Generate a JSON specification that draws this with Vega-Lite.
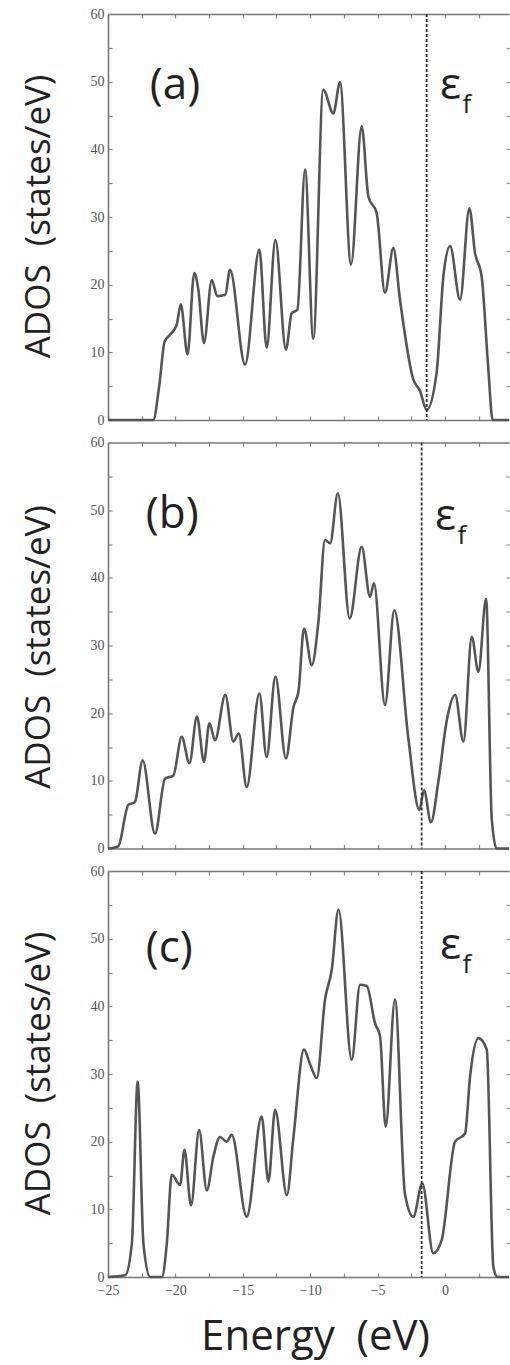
{
  "$schema": "https://vega.github.io/schema/vega-lite/v6.json",
  "padding": {"left": 21, "top": 7, "right": 0, "bottom": 6},
  "background": "white",
  "bounds": "flush",
  "spacing": 22.5,
  "config": {
    "view": {"stroke": null},
    "axis": {
      "grid": false,
      "domainColor": "#777",
      "domainWidth": 1.6,
      "tickColor": "#888",
      "tickWidth": 1.2,
      "labelFont": "Liberation Serif",
      "labelFontSize": 14,
      "labelColor": "#555",
      "labelFlush": false,
      "labelOverlap": false,
      "titleFont": "Open Sans",
      "titleColor": "#222",
      "titleFontWeight": "normal"
    }
  },
  "datasets": {
    "a": [
      {"E": -25, "D": 0}, {"E": -21.65, "D": 0}, {"E": -21.2, "D": 5}, {"E": -20.8, "D": 11.6},
      {"E": -20.4, "D": 12.6}, {"E": -19.9, "D": 14.1}, {"E": -19.6, "D": 17.1}, {"E": -19.1, "D": 9.7},
      {"E": -18.6, "D": 21.7}, {"E": -18.3, "D": 19.3}, {"E": -17.88, "D": 11.4}, {"E": -17.3, "D": 20.7},
      {"E": -16.9, "D": 18.3}, {"E": -16.3, "D": 18.5}, {"E": -15.95, "D": 22.2}, {"E": -14.83, "D": 8.2},
      {"E": -13.77, "D": 25.2}, {"E": -13.23, "D": 10.7}, {"E": -12.58, "D": 26.6}, {"E": -11.8, "D": 10.4},
      {"E": -11.37, "D": 15.8}, {"E": -10.95, "D": 16.3}, {"E": -10.38, "D": 37}, {"E": -9.77, "D": 12},
      {"E": -9.03, "D": 48.8}, {"E": -8.28, "D": 45.3}, {"E": -7.79, "D": 49.9}, {"E": -6.97, "D": 23},
      {"E": -6.18, "D": 43.4}, {"E": -5.68, "D": 33}, {"E": -5.07, "D": 30.6}, {"E": -4.45, "D": 18.8},
      {"E": -3.83, "D": 25.4}, {"E": -3.34, "D": 17.8}, {"E": -2.35, "D": 6}, {"E": -1.85, "D": 4.3},
      {"E": -1.36, "D": 1.5}, {"E": -0.62, "D": 7}, {"E": -0.12, "D": 21.2}, {"E": 0.38, "D": 25.7},
      {"E": 1.12, "D": 17.8}, {"E": 1.81, "D": 31.3}, {"E": 2.23, "D": 24.7}, {"E": 2.72, "D": 21.2},
      {"E": 3.2, "D": 8}, {"E": 3.54, "D": 0}, {"E": 4.75, "D": 0}
    ],
    "b": [
      {"E": -25, "D": 0}, {"E": -24.25, "D": 0.3}, {"E": -23.5, "D": 6.4}, {"E": -23.0, "D": 6.9},
      {"E": -22.43, "D": 13}, {"E": -21.51, "D": 2.2}, {"E": -20.77, "D": 10.3}, {"E": -20.15, "D": 10.8},
      {"E": -19.53, "D": 16.5}, {"E": -18.96, "D": 12.6}, {"E": -18.4, "D": 19.5}, {"E": -17.88, "D": 12.8},
      {"E": -17.48, "D": 18.5}, {"E": -17.06, "D": 16}, {"E": -16.3, "D": 22.7}, {"E": -15.7, "D": 15.8},
      {"E": -15.3, "D": 17}, {"E": -14.71, "D": 9.1}, {"E": -13.77, "D": 22.9}, {"E": -13.23, "D": 13.5},
      {"E": -12.58, "D": 25.4}, {"E": -11.8, "D": 13.3}, {"E": -11.24, "D": 20.9}, {"E": -10.87, "D": 23.2},
      {"E": -10.46, "D": 32.5}, {"E": -9.88, "D": 27.1}, {"E": -9.39, "D": 33.5}, {"E": -8.9, "D": 45.6},
      {"E": -8.52, "D": 45.1}, {"E": -7.95, "D": 52.5}, {"E": -7.07, "D": 34}, {"E": -6.18, "D": 44.6},
      {"E": -5.56, "D": 37.2}, {"E": -5.27, "D": 39.2}, {"E": -4.45, "D": 21.2}, {"E": -3.76, "D": 35.2},
      {"E": -2.72, "D": 16.3}, {"E": -1.9, "D": 5.7}, {"E": -1.56, "D": 8.6}, {"E": -1.04, "D": 3.9},
      {"E": -0.49, "D": 9.9}, {"E": 0.14, "D": 19}, {"E": 0.75, "D": 22.7}, {"E": 1.37, "D": 15.8},
      {"E": 1.99, "D": 31.3}, {"E": 2.48, "D": 26.1}, {"E": 3.05, "D": 36.9}, {"E": 3.47, "D": 4.4},
      {"E": 3.83, "D": 0}, {"E": 4.75, "D": 0}
    ],
    "c": [
      {"E": -25, "D": 0}, {"E": -23.73, "D": 0.25}, {"E": -23.23, "D": 4.9}, {"E": -22.8, "D": 28.9},
      {"E": -22.37, "D": 4.9}, {"E": -21.87, "D": 0}, {"E": -21.0, "D": 0}, {"E": -20.64, "D": 4.9},
      {"E": -20.27, "D": 15.1}, {"E": -19.65, "D": 13.6}, {"E": -19.33, "D": 18.8}, {"E": -18.84, "D": 10.6},
      {"E": -18.24, "D": 21.7}, {"E": -17.67, "D": 12.8}, {"E": -17.18, "D": 17.8}, {"E": -16.69, "D": 20.7},
      {"E": -16.2, "D": 20}, {"E": -15.82, "D": 21}, {"E": -14.71, "D": 8.9}, {"E": -13.6, "D": 23.7},
      {"E": -13.1, "D": 14.1}, {"E": -12.6, "D": 24.7}, {"E": -11.73, "D": 12.1}, {"E": -11.24, "D": 20.7},
      {"E": -10.46, "D": 33.6}, {"E": -10.0, "D": 31.4}, {"E": -9.51, "D": 29.4}, {"E": -8.9, "D": 41},
      {"E": -8.4, "D": 45.4}, {"E": -7.9, "D": 54.3}, {"E": -6.92, "D": 32.1}, {"E": -6.3, "D": 43.2},
      {"E": -5.8, "D": 43}, {"E": -5.19, "D": 37.5}, {"E": -4.82, "D": 35.6}, {"E": -4.4, "D": 22.2},
      {"E": -3.71, "D": 41}, {"E": -2.97, "D": 12.3}, {"E": -2.35, "D": 8.9}, {"E": -1.68, "D": 13.8},
      {"E": -0.87, "D": 3.5}, {"E": -0.25, "D": 5.4}, {"E": 0.75, "D": 20}, {"E": 1.49, "D": 21.2},
      {"E": 1.86, "D": 29.6}, {"E": 2.48, "D": 35.3}, {"E": 3.1, "D": 33.6}, {"E": 3.59, "D": 1.5},
      {"E": 3.89, "D": 0}, {"E": 4.75, "D": 0}
    ],
    "fermi": [
      {"p": "a", "ef": -1.36}, {"p": "b", "ef": -1.73}, {"p": "c", "ef": -1.73}
    ],
    "big": [
      {"p": "a", "E": -21.9, "D": 47.4, "t": "(a)"},
      {"p": "a", "E": -0.37, "D": 47.4, "t": "ε"},
      {"p": "b", "E": -22.2, "D": 47.3, "t": "(b)"},
      {"p": "b", "E": -0.74, "D": 47.0, "t": "ε"},
      {"p": "c", "E": -22.2, "D": 46.5, "t": "(c)"},
      {"p": "c", "E": -0.37, "D": 47.0, "t": "ε"}
    ],
    "sub": [
      {"p": "a", "E": 1.3, "D": 45.3, "t": "f"},
      {"p": "b", "E": 0.93, "D": 45.0, "t": "f"},
      {"p": "c", "E": 1.3, "D": 45.0, "t": "f"}
    ]
  },
  "vconcat": [
    {
      "width": 401, "height": 406,
      "layer": [
        {
          "data": {"name": "a"},
          "mark": {"type": "line", "interpolate": "monotone", "color": "#555", "strokeWidth": 2.6},
          "encoding": {
            "x": {"field": "E", "type": "quantitative", "scale": {"domain": [-25, 4.75], "nice": false, "zero": false},
                  "axis": {"orient": "bottom", "values": [-25, -22.5, -20, -17.5, -15, -12.5, -10, -7.5, -5, -2.5, 0, 2.5], "labels": false, "tickSize": -4, "title": null}},
            "y": {"field": "D", "type": "quantitative", "scale": {"domain": [0, 60], "nice": false},
                  "axis": {"orient": "left", "values": [0, 5, 10, 15, 20, 25, 30, 35, 40, 45, 50, 55, 60], "labelExpr": "datum.value % 10 === 0 ? datum.label : ''", "tickSize": -4, "labelPadding": 8,
                           "title": "ADOS\u00a0\u00a0(states/eV)", "titleFontSize": 35, "titleX": -59, "titleY": 202, "titleBaseline": "alphabetic", "titleAlign": "center", "titleAngle": -90}}
          }
        },
        {
          "data": {"name": "a"},
          "mark": {"type": "line", "opacity": 0},
          "encoding": {
            "x": {"field": "E", "type": "quantitative", "axis": {"orient": "top", "values": [-25, -22.5, -20, -17.5, -15, -12.5, -10, -7.5, -5, -2.5, 0, 2.5], "labels": false, "tickSize": -4, "title": null}},
            "y": {"field": "D", "type": "quantitative", "axis": {"orient": "right", "values": [5, 10, 15, 20, 25, 30, 35, 40, 45, 50, 55], "labels": false, "domain": false, "tickSize": -3, "title": null}}
          }
        },
        {
          "data": {"name": "fermi"},
          "transform": [{"filter": "datum.p === 'a'"}],
          "mark": {"type": "rule", "strokeDash": [3, 2], "color": "#333", "strokeWidth": 1.8},
          "encoding": {"x": {"field": "ef", "type": "quantitative", "axis": null}}
        },
        {
          "data": {"name": "big"},
          "transform": [{"filter": "datum.p === 'a'"}],
          "mark": {"type": "text", "font": "Open Sans", "fontSize": 44, "align": "left", "baseline": "alphabetic", "color": "#222"},
          "encoding": {"x": {"field": "E", "type": "quantitative", "axis": null}, "y": {"field": "D", "type": "quantitative", "axis": null}, "text": {"field": "t"}}
        },
        {
          "data": {"name": "sub"},
          "transform": [{"filter": "datum.p === 'a'"}],
          "mark": {"type": "text", "font": "Open Sans", "fontSize": 26, "align": "left", "baseline": "alphabetic", "color": "#222"},
          "encoding": {"x": {"field": "E", "type": "quantitative", "axis": null}, "y": {"field": "D", "type": "quantitative", "axis": null}, "text": {"field": "t"}}
        }
      ],
      "resolve": {"axis": {"x": "independent", "y": "independent"}}
    },
    {
      "width": 401, "height": 406,
      "layer": [
        {
          "data": {"name": "b"},
          "mark": {"type": "line", "interpolate": "monotone", "color": "#555", "strokeWidth": 2.6},
          "encoding": {
            "x": {"field": "E", "type": "quantitative", "scale": {"domain": [-25, 4.75], "nice": false, "zero": false},
                  "axis": {"orient": "bottom", "values": [-25, -22.5, -20, -17.5, -15, -12.5, -10, -7.5, -5, -2.5, 0, 2.5], "labels": false, "tickSize": -4, "title": null}},
            "y": {"field": "D", "type": "quantitative", "scale": {"domain": [0, 60], "nice": false},
                  "axis": {"orient": "left", "values": [0, 5, 10, 15, 20, 25, 30, 35, 40, 45, 50, 55, 60], "labelExpr": "datum.value % 10 === 0 ? datum.label : ''", "tickSize": -4, "labelPadding": 8,
                           "title": "ADOS\u00a0\u00a0(states/eV)", "titleFontSize": 35, "titleX": -59, "titleY": 204, "titleBaseline": "alphabetic", "titleAlign": "center", "titleAngle": -90}}
          }
        },
        {
          "data": {"name": "b"},
          "mark": {"type": "line", "opacity": 0},
          "encoding": {
            "x": {"field": "E", "type": "quantitative", "axis": {"orient": "top", "values": [-25, -22.5, -20, -17.5, -15, -12.5, -10, -7.5, -5, -2.5, 0, 2.5], "labels": false, "tickSize": -4, "title": null}},
            "y": {"field": "D", "type": "quantitative", "axis": {"orient": "right", "values": [5, 10, 15, 20, 25, 30, 35, 40, 45, 50, 55], "labels": false, "domain": false, "tickSize": -3, "title": null}}
          }
        },
        {
          "data": {"name": "fermi"},
          "transform": [{"filter": "datum.p === 'b'"}],
          "mark": {"type": "rule", "strokeDash": [3, 2], "color": "#333", "strokeWidth": 1.8},
          "encoding": {"x": {"field": "ef", "type": "quantitative", "axis": null}}
        },
        {
          "data": {"name": "big"},
          "transform": [{"filter": "datum.p === 'b'"}],
          "mark": {"type": "text", "font": "Open Sans", "fontSize": 44, "align": "left", "baseline": "alphabetic", "color": "#222"},
          "encoding": {"x": {"field": "E", "type": "quantitative", "axis": null}, "y": {"field": "D", "type": "quantitative", "axis": null}, "text": {"field": "t"}}
        },
        {
          "data": {"name": "sub"},
          "transform": [{"filter": "datum.p === 'b'"}],
          "mark": {"type": "text", "font": "Open Sans", "fontSize": 26, "align": "left", "baseline": "alphabetic", "color": "#222"},
          "encoding": {"x": {"field": "E", "type": "quantitative", "axis": null}, "y": {"field": "D", "type": "quantitative", "axis": null}, "text": {"field": "t"}}
        }
      ],
      "resolve": {"axis": {"x": "independent", "y": "independent"}}
    },
    {
      "width": 401, "height": 406,
      "layer": [
        {
          "data": {"name": "c"},
          "mark": {"type": "line", "interpolate": "monotone", "color": "#555", "strokeWidth": 2.6},
          "encoding": {
            "x": {"field": "E", "type": "quantitative", "scale": {"domain": [-25, 4.75], "nice": false, "zero": false},
                  "axis": {"orient": "bottom", "values": [-25, -22.5, -20, -17.5, -15, -12.5, -10, -7.5, -5, -2.5, 0, 2.5], "labelExpr": "datum.value % 5 === 0 ? datum.label : ''", "tickSize": -4, "labelPadding": 10,
                           "title": "Energy\u00a0\u00a0(eV)", "titleFontSize": 42, "titleX": 207, "titleY": 72, "titleBaseline": "alphabetic", "titleAlign": "center"}},
            "y": {"field": "D", "type": "quantitative", "scale": {"domain": [0, 60], "nice": false},
                  "axis": {"orient": "left", "values": [0, 5, 10, 15, 20, 25, 30, 35, 40, 45, 50, 55, 60], "labelExpr": "datum.value % 10 === 0 ? datum.label : ''", "tickSize": -4, "labelPadding": 8,
                           "title": "ADOS\u00a0\u00a0(states/eV)", "titleFontSize": 35, "titleX": -59, "titleY": 202, "titleBaseline": "alphabetic", "titleAlign": "center", "titleAngle": -90}}
          }
        },
        {
          "data": {"name": "c"},
          "mark": {"type": "line", "opacity": 0},
          "encoding": {
            "x": {"field": "E", "type": "quantitative", "axis": {"orient": "top", "values": [-25, -22.5, -20, -17.5, -15, -12.5, -10, -7.5, -5, -2.5, 0, 2.5], "labels": false, "tickSize": -4, "title": null}},
            "y": {"field": "D", "type": "quantitative", "axis": {"orient": "right", "values": [5, 10, 15, 20, 25, 30, 35, 40, 45, 50, 55], "labels": false, "domain": false, "tickSize": -3, "title": null}}
          }
        },
        {
          "data": {"name": "fermi"},
          "transform": [{"filter": "datum.p === 'c'"}],
          "mark": {"type": "rule", "strokeDash": [3, 2], "color": "#333", "strokeWidth": 1.8},
          "encoding": {"x": {"field": "ef", "type": "quantitative", "axis": null}}
        },
        {
          "data": {"name": "big"},
          "transform": [{"filter": "datum.p === 'c'"}],
          "mark": {"type": "text", "font": "Open Sans", "fontSize": 44, "align": "left", "baseline": "alphabetic", "color": "#222"},
          "encoding": {"x": {"field": "E", "type": "quantitative", "axis": null}, "y": {"field": "D", "type": "quantitative", "axis": null}, "text": {"field": "t"}}
        },
        {
          "data": {"name": "sub"},
          "transform": [{"filter": "datum.p === 'c'"}],
          "mark": {"type": "text", "font": "Open Sans", "fontSize": 26, "align": "left", "baseline": "alphabetic", "color": "#222"},
          "encoding": {"x": {"field": "E", "type": "quantitative", "axis": null}, "y": {"field": "D", "type": "quantitative", "axis": null}, "text": {"field": "t"}}
        }
      ],
      "resolve": {"axis": {"x": "independent", "y": "independent"}}
    }
  ]
}
